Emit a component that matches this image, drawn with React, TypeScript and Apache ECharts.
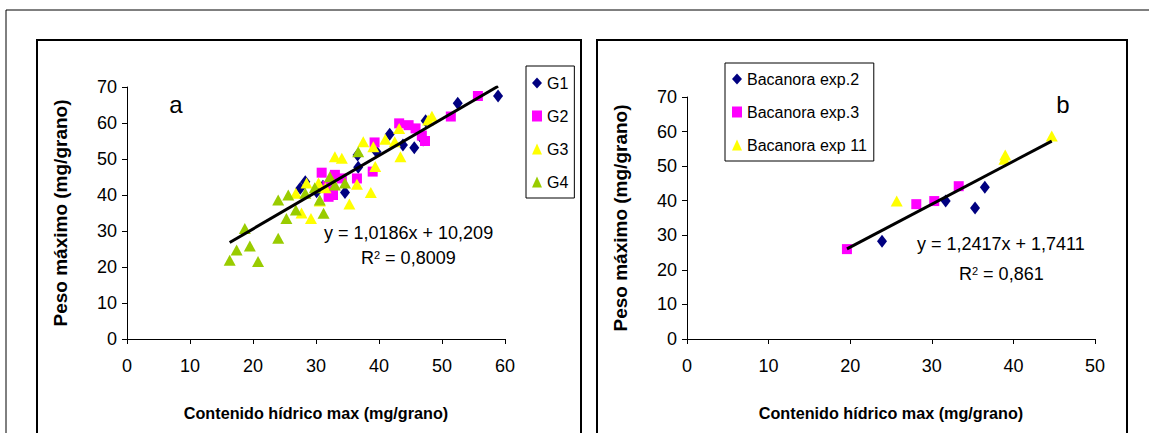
import React, { useEffect, useRef } from "react";
import * as echarts from "echarts";

// ---------- Panel a data ----------
const G1 = [
  [27.5, 41.9], [28.3, 43.7], [30.1, 40.9], [31.1, 42.4], [34.6, 40.7],
  [36.7, 47.7], [36.6, 51.1], [39.6, 52.0], [41.7, 56.9], [43.8, 53.9],
  [45.6, 53.1], [47.0, 55.3], [47.4, 60.6], [52.5, 65.5], [58.9, 67.5],
];
const G2 = [
  [30.9, 46.2], [31.8, 42.5], [32.0, 39.5], [32.7, 40.0], [33.0, 45.6],
  [34.1, 44.6], [36.5, 44.6], [39.0, 46.5], [39.3, 54.6], [43.2, 59.9],
  [44.7, 59.4], [45.8, 58.5], [46.8, 56.5], [47.3, 55.0], [51.4, 61.8],
  [55.7, 67.5],
];
const G3 = [
  [26.8, 40.5], [27.7, 35.0], [28.5, 43.3], [29.2, 33.5], [30.4, 43.3],
  [30.6, 38.3], [31.5, 42.0], [33.0, 50.6], [34.1, 50.2], [35.3, 37.5],
  [36.5, 43.0], [37.5, 54.8], [38.7, 40.7], [39.1, 53.4], [39.4, 47.9],
  [41.0, 55.5], [42.5, 54.8], [43.2, 58.5], [43.4, 50.6], [47.8, 60.8],
  [48.4, 61.9],
];
const G4 = [
  [16.3, 21.9], [17.4, 24.7], [18.7, 30.7], [19.5, 25.8], [20.8, 21.5],
  [24.0, 28.0], [24.0, 38.6], [25.3, 33.5], [25.6, 40.0], [26.8, 35.8],
  [28.3, 40.5], [29.8, 42.0], [30.6, 38.6], [31.2, 34.9], [32.2, 45.1],
  [33.0, 42.8], [34.6, 43.3], [36.7, 52.0],
];
const TREND_A = [1.0186, 10.209]; // slope, intercept
const TREND_A_RANGE = [16.3, 58.9];

// ---------- Panel b data ----------
const EXP2 = [[23.9, 28.3], [31.7, 39.9], [35.3, 37.9], [36.5, 43.9]];
const EXP3 = [[19.6, 26.0], [28.1, 39.0], [30.3, 39.9], [33.3, 44.2]];
const EXP11 = [[25.7, 39.9], [39.0, 53.2], [38.9, 52.0], [44.7, 58.7]];
const TREND_B = [1.2417, 1.7411];
const TREND_B_RANGE = [19.6, 44.7];

const X_TICKS_A = [0, 60, 10];
const X_TICKS_B = [0, 50, 10];
const Y_TICKS = [0, 70, 10];

const FONT = "'Liberation Sans', Arial, sans-serif";
const NAME_X = "Contenido hídrico max (mg/grano)";
const NAME_Y = "Peso máximo (mg/grano)";

const trend = (c: number[], r: number[]) => r.map((x) => [x, c[0] * x + c[1]]);

function xAxis(idx: number, t: number[]) {
  return {
    type: "value",
    gridIndex: idx,
    min: t[0],
    max: t[1],
    interval: t[2],
    name: NAME_X,
    nameLocation: "middle",
    nameGap: 66,
    nameTextStyle: { fontFamily: FONT, fontWeight: "bold", fontSize: 16.2, color: "#000" },
    axisLine: { show: true, onZero: false, lineStyle: { color: "#000", width: 1 } },
    axisTick: { show: true, inside: false, length: 5, lineStyle: { color: "#000" } },
    axisLabel: { fontFamily: FONT, fontSize: 18, color: "#000", margin: 18 },
    splitLine: { show: false },
  };
}

function yAxis(idx: number) {
  return {
    type: "value",
    gridIndex: idx,
    min: Y_TICKS[0],
    max: Y_TICKS[1],
    interval: Y_TICKS[2],
    name: NAME_Y,
    nameLocation: "middle",
    nameGap: 57,
    nameTextStyle: { fontFamily: FONT, fontWeight: "bold", fontSize: 19, color: "#000" },
    axisLine: { show: true, onZero: false, lineStyle: { color: "#000", width: 1 } },
    axisTick: { show: true, inside: false, length: 5, lineStyle: { color: "#000" } },
    axisLabel: { fontFamily: FONT, fontSize: 18, color: "#000", margin: 10 },
    splitLine: { show: false },
  };
}

function scatter(name: string, data: number[][], idx: number, symbol: string, size: any, color: string) {
  return {
    name,
    type: "scatter",
    xAxisIndex: idx,
    yAxisIndex: idx,
    data,
    symbol,
    symbolSize: size,
    itemStyle: { color, opacity: 1 },
  };
}

const legendBase = {
  orient: "vertical",
  itemWidth: 10,
  itemHeight: 11,
  itemGap: 15,
  borderColor: "#000",
  borderWidth: 1,
  borderRadius: 0,
  backgroundColor: "#fff",
  textStyle: { fontFamily: FONT, fontSize: 16, color: "#000", lineHeight: 18 },
  selectedMode: false,
};

export default function App() {
  const ref = useRef<HTMLDivElement>(null);
  useEffect(() => {
    if (!ref.current) return;
    const chart = echarts.init(ref.current, undefined, { renderer: "svg" });
    chart.setOption({
      animation: false,
      backgroundColor: "#fff",
      grid: [
        { left: 127, top: 87, width: 378, height: 252 },
        { left: 687, top: 97, width: 408, height: 242 },
      ],
      xAxis: [xAxis(0, X_TICKS_A), xAxis(1, X_TICKS_B)],
      yAxis: [yAxis(0), yAxis(1)],
      legend: [
        { ...legendBase, left: 526, top: 66, padding: [8, 6, 7, 6], data: ["G1", "G2", "G3", "G4"] },
        {
          ...legendBase,
          left: 725,
          top: 63,
          padding: [7, 7, 7, 7],
          data: ["Bacanora exp.2", "Bacanora exp.3", "Bacanora exp 11"],
        },
      ],
      series: [
        scatter("G1", G1, 0, "diamond", [10, 13], "#000080"),
        scatter("G2", G2, 0, "rect", 10, "#FF00FF"),
        scatter("G3", G3, 0, "triangle", [12, 11], "#FFFF00"),
        scatter("G4", G4, 0, "triangle", [12, 11], "#99CC00"),
        {
          type: "line",
          xAxisIndex: 0,
          yAxisIndex: 0,
          data: trend(TREND_A, TREND_A_RANGE),
          symbol: "none",
          lineStyle: { color: "#000", width: 3 },
          z: 5,
        },
        scatter("Bacanora exp.2", EXP2, 1, "diamond", [10, 13], "#000080"),
        scatter("Bacanora exp.3", EXP3, 1, "rect", 10, "#FF00FF"),
        scatter("Bacanora exp 11", EXP11, 1, "triangle", [12, 11], "#FFFF00"),
        {
          type: "line",
          xAxisIndex: 1,
          yAxisIndex: 1,
          data: trend(TREND_B, TREND_B_RANGE),
          symbol: "none",
          lineStyle: { color: "#000", width: 3 },
          z: 5,
        },
      ],
      graphic: [
        { type: "polyline", shape: { points: [[6, 433], [6, 10], [1149, 10]] }, style: { stroke: "#000", lineWidth: 1, fill: "none" }, silent: true },
        { type: "rect", shape: { x: 37, y: 40, width: 544, height: 420 }, style: { stroke: "#000", lineWidth: 2, fill: "none" }, silent: true },
        { type: "rect", shape: { x: 597, y: 40, width: 530, height: 420 }, style: { stroke: "#000", lineWidth: 2, fill: "none" }, silent: true },
        { type: "text", x: 176, y: 104, style: { text: "a", fontFamily: FONT, fontSize: 24, fill: "#000", align: "center", verticalAlign: "middle" } },
        { type: "text", x: 1063, y: 104, style: { text: "b", fontFamily: FONT, fontSize: 24, fill: "#000", align: "center", verticalAlign: "middle" } },
        { type: "text", x: 324, y: 233, style: { text: "y = 1,0186x + 10,209", fontFamily: FONT, fontSize: 18, fill: "#000", align: "left", verticalAlign: "middle" } },
        {
          type: "text", x: 361, y: 258,
          style: {
            text: "R{sup|2} = 0,8009", fontFamily: FONT, fontSize: 18, fill: "#000", align: "left", verticalAlign: "middle",
            rich: { sup: { fontFamily: FONT, fontSize: 11, verticalAlign: "top", fill: "#000" } },
          },
        },
        { type: "text", x: 917, y: 244, style: { text: "y = 1,2417x + 1,7411", fontFamily: FONT, fontSize: 18, fill: "#000", align: "left", verticalAlign: "middle" } },
        {
          type: "text", x: 959, y: 274,
          style: {
            text: "R{sup|2} = 0,861", fontFamily: FONT, fontSize: 18, fill: "#000", align: "left", verticalAlign: "middle",
            rich: { sup: { fontFamily: FONT, fontSize: 11, verticalAlign: "top", fill: "#000" } },
          },
        },
      ],
    });
    return () => chart.dispose();
  }, []);
  return (
    <div
      ref={ref}
      style={{ position: "absolute", left: 0, top: 0, width: 1149, height: 433, background: "#fff" }}
    />
  );
}
